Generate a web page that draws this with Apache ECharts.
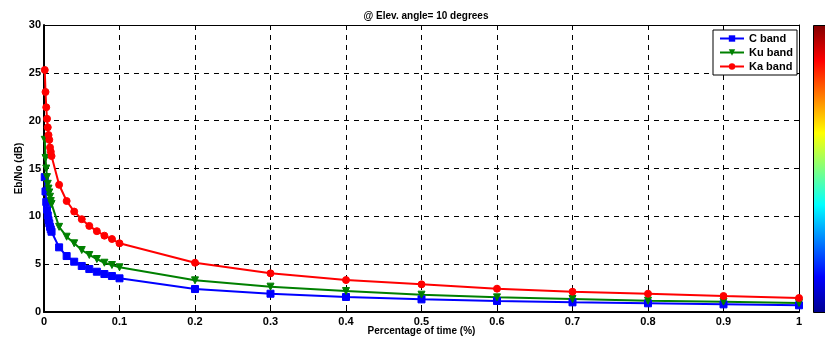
<!DOCTYPE html>
<html>
<head>
<meta charset="utf-8">
<script src="https://cdn.jsdelivr.net/npm/echarts@6/dist/echarts.min.js"></script>
<style>
  html, body { margin: 0; padding: 0; background: #fff; }
  #chart { width: 825px; height: 341px; }
</style>
</head>
<body>
<div id="chart"></div>
<script>
// percentage of time (%)
const timePct = [
  0.001, 0.002, 0.003, 0.004, 0.005, 0.006, 0.007, 0.008, 0.009, 0.01,
  0.02, 0.03, 0.04, 0.05, 0.06, 0.07, 0.08, 0.09, 0.1,
  0.2, 0.3, 0.4, 0.5, 0.6, 0.7, 0.8, 0.9, 1
];
const cBand = [
  14.1, 12.6, 11.5, 10.7, 10.1, 9.6, 9.27, 8.9, 8.64, 8.39,
  6.76, 5.85, 5.26, 4.81, 4.49, 4.21, 3.97, 3.76, 3.52,
  2.40, 1.91, 1.57, 1.32, 1.15, 1.01, 0.91, 0.80, 0.70
];
const kuBand = [
  18.0, 16.1, 15.0, 14.1, 13.4, 12.9, 12.5, 12.05, 11.6, 11.3,
  8.9, 7.87, 7.18, 6.48, 5.96, 5.54, 5.15, 4.91, 4.67,
  3.31, 2.65, 2.19, 1.81, 1.53, 1.36, 1.18, 1.08, 0.94
];
const kaBand = [
  25.3, 23.0, 21.4, 20.2, 19.3, 18.5, 18.0, 17.2, 16.75, 16.3,
  13.3, 11.6, 10.5, 9.7, 9.0, 8.45, 7.98, 7.63, 7.18,
  5.15, 4.04, 3.34, 2.89, 2.44, 2.12, 1.91, 1.67, 1.46
];
const seriesNames = ['C band', 'Ku band', 'Ka band'];

const font = 'Liberation Sans, Arial, sans-serif';
const pairs = (ys) => timePct.map((x, i) => [x, ys[i]]);

const chart = echarts.init(document.getElementById('chart'));

const mkSeries = (name, ys, color, symbol, rotate) => ({
  name: name,
  type: 'line',
  data: pairs(ys),
  xAxisIndex: 0,
  yAxisIndex: 0,
  symbol: symbol,
  symbolSize: 7,
  symbolRotate: rotate,
  showAllSymbol: true,
  lineStyle: { color: color, width: 2 },
  itemStyle: { color: color, borderColor: color },
  emphasis: { disabled: true },
  animation: false,
  z: 3
});

const option = {
  animation: false,
  title: {
    text: '@ Elev. angle= 10 degrees',
    left: 421,
    textAlign: 'center',
    top: 6,
    textStyle: { fontFamily: font, fontSize: 10, fontWeight: 'bold', color: '#000' }
  },
  legend: {
    data: seriesNames,
    orient: 'vertical',
    right: 28,
    top: 30,
    backgroundColor: '#fff',
    borderColor: '#000',
    borderWidth: 1,
    padding: [3, 4, 3, 6],
    itemGap: 3,
    itemWidth: 24,
    itemHeight: 8,
    textStyle: { fontFamily: font, fontSize: 11, fontWeight: 'bold', color: '#000' }
  },
  grid: { left: 44, top: 25, width: 755, height: 287, containLabel: false },
  xAxis: [
    {
      type: 'value',
      min: 0, max: 1, interval: 0.1,
      name: 'Percentage of time (%)',
      nameLocation: 'middle',
      nameGap: 14,
      nameMoveOverlap: false,
      nameTextStyle: { fontFamily: font, fontSize: 10, fontWeight: 'bold', color: '#000' },
      axisLine: { show: true, onZero: false, lineStyle: { color: '#000', width: 2 } },
      axisTick: { show: true, inside: true, length: 4, lineStyle: { color: '#000' } },
      axisLabel: { fontFamily: font, fontSize: 11, fontWeight: 'bold', color: '#000', margin: 4,
        formatter: (v) => String(+v.toFixed(1)) },
      splitLine: { show: true, lineStyle: { color: '#000', type: [5, 5], width: 1 } }
    },
    {
      type: 'value', position: 'top',
      min: 0, max: 1, interval: 0.1,
      axisLine: { show: true, onZero: false, lineStyle: { color: '#000', width: 1 } },
      axisTick: { show: true, inside: true, length: 4, lineStyle: { color: '#000' } },
      axisLabel: { show: false },
      splitLine: { show: false }
    }
  ],
  yAxis: [
    {
      type: 'value',
      min: 0, max: 30, interval: 5,
      name: 'Eb/No (dB)',
      nameLocation: 'middle',
      nameGap: 20,
      nameMoveOverlap: false,
      nameTextStyle: { fontFamily: font, fontSize: 10, fontWeight: 'bold', color: '#000' },
      axisLine: { show: true, onZero: false, lineStyle: { color: '#000', width: 2 } },
      axisTick: { show: true, inside: true, length: 4, lineStyle: { color: '#000' } },
      axisLabel: { fontFamily: font, fontSize: 11, fontWeight: 'bold', color: '#000', margin: 3 },
      splitLine: { show: true, lineStyle: { color: '#000', type: [5, 5], width: 1 } }
    },
    {
      type: 'value', position: 'right',
      min: 0, max: 30, interval: 5,
      axisLine: { show: true, onZero: false, lineStyle: { color: '#000', width: 1 } },
      axisTick: { show: true, inside: true, length: 4, lineStyle: { color: '#000' } },
      axisLabel: { show: false },
      splitLine: { show: false }
    }
  ],
  graphic: [
    {
      // jet colorbar
      type: 'rect',
      left: 813,
      top: 25,
      shape: { width: 14, height: 287 },
      style: {
        fill: new echarts.graphic.LinearGradient(0, 0, 0, 1, [
          { offset: 0, color: '#800000' },
          { offset: 0.125, color: '#ff0000' },
          { offset: 0.375, color: '#ffff00' },
          { offset: 0.625, color: '#00ffff' },
          { offset: 0.875, color: '#0000ff' },
          { offset: 1, color: '#00008f' }
        ]),
        stroke: '#000',
        lineWidth: 1
      },
      z: 10
    }
  ],
  series: [
    mkSeries(seriesNames[0], cBand, '#0000ff', 'rect', 0),
    mkSeries(seriesNames[1], kuBand, '#008000', 'triangle', 180),
    mkSeries(seriesNames[2], kaBand, '#ff0000', 'circle', 0)
  ]
};

chart.setOption(option);
</script>
</body>
</html>
